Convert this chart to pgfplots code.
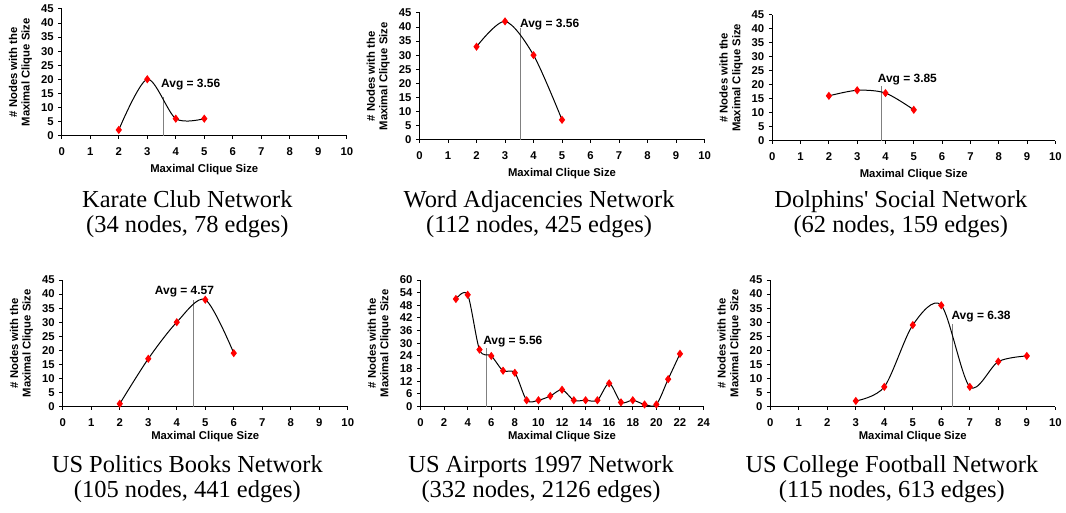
\documentclass[border=0pt]{standalone}
\usepackage{fontspec}
\newfontfamily\tnr{Liberation Serif}
\newfontfamily\arial{Liberation Sans}
\usepackage{pgfplots}
\pgfplotsset{compat=1.18}

\pgfplotsset{
  clique/.style={
    scale only axis,
    width=214.5pt, height=95.25pt,
    anchor=south west,
    axis lines=left,
    axis line style={-, black, line width=0.75pt},
    every outer x axis line/.append style={-},
    every outer y axis line/.append style={-},
    xmin=0, xmax=10, ymin=0, ymax=45,
    xtick={0,...,10}, ytick={0,5,...,45},
    tick align=outside,
    major tick length=2.5pt,
    tick style={black, line width=0.75pt},
    minor tick num=0,
    ticklabel style={font=\arial\bfseries\fontsize{8.5}{9}\selectfont},
    xticklabel style={yshift=-3pt},
    /pgf/number format/assume math mode=true,
    xlabel={Maximal Clique Size},
    ylabel={\# Nodes with the\\Maximal Clique Size},
    label style={font=\arial\bfseries\fontsize{8.5}{9.5}\selectfont},
    ylabel style={align=center},
    clip=false,
  },
  lower/.style={xlabel style={yshift=3pt}},
  curve/.style={black, line width=0.75pt, smooth, mark=diamond*, mark size=2.5pt,
    mark options={draw=red, fill=red, solid}},
  avg/.style={gray, line width=0.75pt, no marks},
}
\tikzset{
  ttl/.style={anchor=base, inner sep=0pt, font=\tnr\fontsize{18.4}{20}\selectfont},
  avglab/.style={font=\arial\bfseries\fontsize{9}{10}\selectfont, inner sep=0pt},
}

\begin{document}
\begin{tikzpicture}
\path (0,0) rectangle (799.5pt,385.5pt);

% top row
\begin{axis}[clique, at={(46.5pt,283.5pt)}]
\addplot[avg] coordinates {(3.56,0) (3.56,13.8)};
\addplot[curve] coordinates {(2,2) (3,20) (4,6) (5,6)};
\node[avglab, anchor=west] at (axis cs:3.48,18.1) {Avg = 3.56};
\end{axis}

\begin{axis}[clique, at={(315.75pt,280.5pt)}]
\addplot[avg] coordinates {(3.56,0) (3.56,39.5)};
\addplot[curve] coordinates {(2,33) (3,42) (4,30) (5,7)};
\node[avglab, anchor=west] at (axis cs:3.52,41) {Avg = 3.56};
\end{axis}

\begin{axis}[clique, at={(581.25pt,279.75pt)}, width=213pt, height=94.5pt]
\addplot[avg] coordinates {(3.85,0) (3.85,19.6)};
\addplot[curve] coordinates {(2,16) (3,18) (4,17) (5,11)};
\node[avglab, anchor=west] at (axis cs:3.72,21.7) {Avg = 3.85};
\end{axis}

% bottom row
\begin{axis}[clique, lower, at={(47.25pt,79.5pt)}]
\addplot[avg] coordinates {(4.57,0) (4.57,37.9)};
\addplot[curve] coordinates {(2,1) (3,17) (4,30) (5,38) (6,19)};
\node[avglab] at (axis cs:4.27,41) {Avg = 4.57};
\end{axis}

\begin{axis}[clique, lower, at={(316.5pt,79.5pt)}, width=213pt,
  xmax=24, ymax=60, xtick={0,2,...,24}, ytick={0,6,...,60}]
\addplot[avg] coordinates {(5.56,0) (5.56,27.6)};
\addplot[curve] coordinates {(3,51) (4,53) (5,27) (6,24) (7,17) (8,16) (9,3)
  (10,3) (11,5) (12,8) (13,3) (14,3) (15,3) (16,11) (17,2) (18,3) (19,1)
  (20,1) (21,13) (22,25)};
\node[avglab, anchor=west] at (axis cs:5.3,30.7) {Avg = 5.56};
\end{axis}

\begin{axis}[clique, lower, at={(579.75pt,79.5pt)}]
\addplot[avg] coordinates {(6.38,0) (6.38,29.5)};
\addplot[curve] coordinates {(3,2) (4,7) (5,29) (6,36) (7,7) (8,16) (9,18)};
\node[avglab, anchor=west] at (axis cs:6.35,31.9) {Avg = 6.38};
\end{axis}

% titles
\node[ttl] at (141pt,229.5pt) {Karate Club Network};
\node[ttl] at (141pt,210.75pt) {(34 nodes, 78 edges)};
\node[ttl] at (405.75pt,229.5pt) {Word Adjacencies Network};
\node[ttl] at (405.75pt,210.75pt) {(112 nodes, 425 edges)};
\node[ttl] at (678pt,229.5pt) {Dolphins' Social Network};
\node[ttl] at (678pt,210.75pt) {(62 nodes, 159 edges)};
\node[ttl] at (141pt,30pt) {US Politics Books Network};
\node[ttl] at (141pt,11.25pt) {(105 nodes, 441 edges)};
\node[ttl] at (407.25pt,30pt) {US Airports 1997 Network};
\node[ttl] at (407.25pt,11.25pt) {(332 nodes, 2126 edges)};
\node[ttl] at (671.25pt,30pt) {US College Football Network};
\node[ttl] at (671.25pt,11.25pt) {(115 nodes, 613 edges)};
\end{tikzpicture}
\end{document}
